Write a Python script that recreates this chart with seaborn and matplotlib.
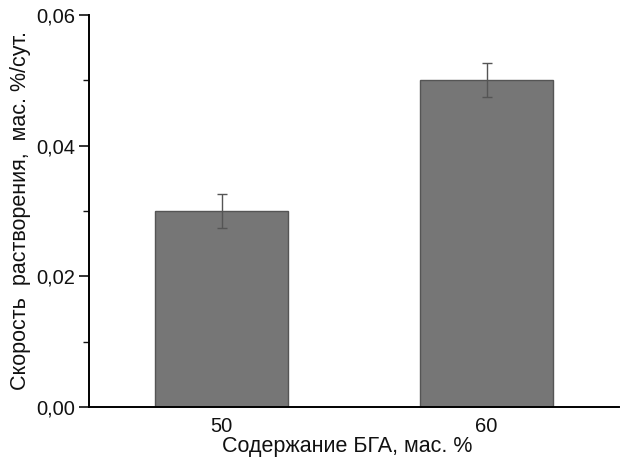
import matplotlib
matplotlib.use("Agg")
import matplotlib.pyplot as plt
import seaborn as sns
import pandas as pd
from matplotlib.ticker import MultipleLocator, FuncFormatter

categories = ["50", "60"]
rates = [0.030, 0.050]
errors = [0.0026, 0.0026]

sns.set_theme(style="ticks")
plt.rcParams['font.family'] = ['Liberation Sans', 'DejaVu Sans']
plt.rcParams['text.color'] = '#111111'

df = pd.DataFrame({"cat": categories, "rate": rates})

fig = plt.figure(figsize=(6.21, 4.61), dpi=100)
ax = fig.add_axes([89/621, 54/461, 530/621, 392/461])

sns.barplot(data=df, x="cat", y="rate", ax=ax, color="#767676", width=0.5,
            edgecolor="#555555", linewidth=1.0, saturation=1, errorbar=None)
ax.errorbar(range(len(categories)), rates, yerr=errors, fmt="none",
            ecolor="#555555", elinewidth=1.0, capsize=3.8, capthick=1.0)

ax.set_xlim(-0.5, 1.5)
ax.set_ylim(0, 0.06)
ax.yaxis.set_major_locator(MultipleLocator(0.02))
ax.yaxis.set_minor_locator(MultipleLocator(0.01))
ax.yaxis.set_major_formatter(FuncFormatter(lambda v, p: f"{v:.2f}".replace(".", ",")))
ax.tick_params(axis="y", which="major", length=7, width=1.2, labelsize=14.5, colors="#111111", pad=3)
ax.tick_params(axis="y", which="minor", length=4, width=1.0, colors="#111111")
ax.tick_params(axis="x", length=0, labelsize=14.5, pad=7, colors="#111111")
for s in ["top", "right"]:
    ax.spines[s].set_visible(False)
for s in ["left", "bottom"]:
    ax.spines[s].set_linewidth(1.4)
    ax.spines[s].set_color("black")

ax.set_xlabel("Содержание БГА, мас. %", fontsize=15.5, color="#111111")
ax.set_ylabel("Скорость  растворения,  мас. %/сут.", fontsize=15.5, color="#111111")
ax.xaxis.set_label_coords(0.487, -0.075)
ax.yaxis.set_label_coords(-0.109, 0.5)

fig.savefig("out.png", dpi=100)
